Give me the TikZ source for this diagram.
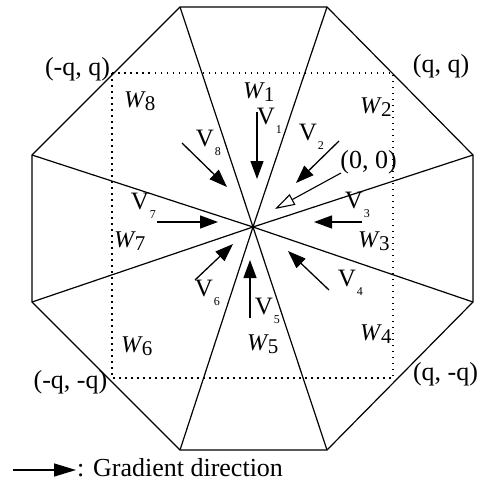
\documentclass[tikz,border=0pt]{standalone}
\usepackage{fontspec}
\setmainfont{Liberation Serif}
\usetikzlibrary{arrows.meta}
\begin{document}
\begin{tikzpicture}[x=1pt,y=-1pt,
  edge/.style={line width=1.2pt, line join=miter},
  grad/.style={line width=1.3pt, -{Triangle[length=18pt,width=13pt]}},
  openarr/.style={line width=1.1pt, -{Triangle[open,length=20pt,width=12pt,fill=white]}},
  dotbox/.style={line width=1.5pt, dash pattern=on 1.5pt off 4.5pt},
  vlab/.style={font=\fontsize{25}{25}\selectfont, inner sep=0pt},
  wlab/.style={font=\fontsize{24}{24}\selectfont\itshape, inner sep=0pt},
  clab/.style={font=\fontsize{26}{26}\selectfont, inner sep=0pt, anchor=base}]
\newcommand{\vsub}[1]{\rlap{\kern0.8pt\raisebox{-8.5pt}{\fontsize{12}{12}\selectfont #1}}}
\newcommand{\wsub}[1]{\rlap{\kern1pt\raisebox{-2.5pt}{\upshape\fontsize{21}{21}\selectfont #1}}}
\useasboundingbox (0,0) rectangle (482,482);
% octagon
\coordinate (O) at (253,227);
\coordinate (P1) at (180,7);
\coordinate (P2) at (327,7);
\coordinate (P3) at (473,155);
\coordinate (P4) at (473,302);
\coordinate (P5) at (327,450);
\coordinate (P6) at (180,450);
\coordinate (P7) at (32,302);
\coordinate (P8) at (32,155);
\draw[edge] (P1)--(P2)--(P3)--(P4)--(P5)--(P6)--(P7)--(P8)--cycle;
\foreach \i in {1,...,8} \draw[edge] (O)--(P\i);
% dotted square
\coordinate (SqA) at (112,73);
\coordinate (SqB) at (393,378);
\draw[dotbox] (SqA) rectangle (SqB);
% gradient arrows
\coordinate (a1s) at (257,112); \coordinate (a1e) at (257,179);
\coordinate (a2s) at (339,141); \coordinate (a2e) at (296,183);
\coordinate (a3s) at (362,222); \coordinate (a3e) at (314,222);
\coordinate (a4s) at (329,290); \coordinate (a4e) at (288,251);
\coordinate (a5s) at (250,318); \coordinate (a5e) at (250,260);
\coordinate (a6s) at (195,280); \coordinate (a6e) at (233,244);
\coordinate (a7s) at (157,222); \coordinate (a7e) at (218,222);
\coordinate (a8s) at (182,143); \coordinate (a8e) at (227,187);
\coordinate (a0s) at (341,173); \coordinate (a0e) at (275,209);
\draw[grad] (a1s)--(a1e);
\draw[grad] (a2s)--(a2e);
\draw[grad] (a3s)--(a3e);
\draw[grad] (a4s)--(a4e);
\draw[grad] (a5s)--(a5e);
\draw[grad] (a6s)--(a6e);
\draw[grad] (a7s)--(a7e);
\draw[grad] (a8s)--(a8e);
\draw[openarr] (a0s)--(a0e);
% V labels
\node[vlab] (v1) at (266,121) {V\vsub{1}};
\node[vlab] (v2) at (308,137) {V\vsub{2}};
\node[vlab] (v3) at (354,205) {V\vsub{3}};
\node[vlab] (v4) at (347,283) {V\vsub{4}};
\node[vlab] (v5) at (264,311) {V\vsub{5}};
\node[vlab] (v6) at (204,293) {V\vsub{6}};
\node[vlab] (v7) at (140,206) {V\vsub{7}};
\node[vlab] (v8) at (205,143) {V\vsub{8}};
% W labels
\node[wlab] (w1) at (253,92) {W\wsub{1}};
\node[wlab] (w2) at (370,107) {W\wsub{2}};
\node[wlab] (w3) at (368,241) {W\wsub{3}};
\node[wlab] (w4) at (370,334) {W\wsub{4}};
\node[wlab] (w5) at (257,344) {W\wsub{5}};
\node[wlab] (w6) at (131,346) {W\wsub{6}};
\node[wlab] (w7) at (124,241) {W\wsub{7}};
\node[wlab] (w8) at (134,101) {W\wsub{8}};
% corner labels
\node[clab] (cTL) at (77.5,75.5) {(-q, q)};
\node[clab] (cTR) at (441,72.5) {(q, q)};
\node[clab] (cBL) at (70.5,388) {(-q, -q)};
\node[clab] (cBR) at (445.5,380) {(q, -q)};
\node[clab] (c00) at (368.5,168) {(0, 0)};
% legend
\coordinate (L1) at (13,470);
\coordinate (L2) at (76,470);
\draw[line width=1.3pt, -{Triangle[length=22pt,width=13pt]}] (L1)--(L2);
\node[clab, anchor=base west] (leg) at (77,476.5) {: Gradient direction};
\end{tikzpicture}
\end{document}
